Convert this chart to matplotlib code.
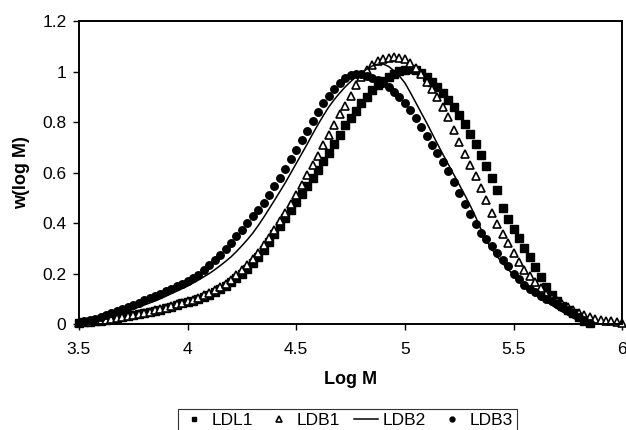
import numpy as np
import matplotlib.pyplot as plt
from matplotlib.ticker import FuncFormatter

plt.rcParams['font.family'] = ['Liberation Sans', 'DejaVu Sans']

# log M grid, step 0.025
log_m = np.round(np.arange(3.5, 6.0001, 0.025), 3)

ldl1 = [0.004, 0.006, 0.008, 0.010, 0.013, 0.016, 0.020, 0.024, 0.027, 0.031,
        0.034, 0.038, 0.043, 0.047, 0.052, 0.057, 0.062, 0.068, 0.075, 0.082,
        0.088, 0.093, 0.099, 0.107, 0.116, 0.127, 0.139, 0.152, 0.167, 0.183,
        0.200, 0.219, 0.240, 0.264, 0.293, 0.324, 0.355, 0.388, 0.420, 0.452,
        0.483, 0.515, 0.547, 0.580, 0.612, 0.645, 0.678, 0.712, 0.750, 0.790,
        0.815, 0.845, 0.875, 0.900, 0.925, 0.945, 0.962, 0.978, 0.992, 1.002,
        1.008, 1.010, 1.005, 0.995, 0.978, 0.960, 0.938, 0.915, 0.888, 0.860,
        0.828, 0.792, 0.752, 0.712, 0.670, 0.625, 0.578, 0.530, 0.460, 0.415,
        0.375, 0.340, 0.300, 0.265, 0.225, 0.185, 0.145, 0.115, 0.090, 0.070,
        0.055, 0.042, 0.028, 0.012, 0.004]

ldb1 = [0.004, 0.006, 0.008, 0.010, 0.013, 0.016, 0.020, 0.024, 0.028, 0.032,
        0.036, 0.040, 0.045, 0.049, 0.054, 0.059, 0.065, 0.071, 0.078, 0.085,
        0.091, 0.097, 0.104, 0.113, 0.123, 0.134, 0.146, 0.160, 0.176, 0.193,
        0.212, 0.233, 0.256, 0.282, 0.311, 0.342, 0.374, 0.407, 0.440, 0.475,
        0.510, 0.550, 0.590, 0.630, 0.665, 0.710, 0.750, 0.790, 0.830, 0.865,
        0.905, 0.945, 0.980, 1.005, 1.025, 1.040, 1.050, 1.055, 1.057, 1.055,
        1.048, 1.035, 1.015, 0.990, 0.960, 0.930, 0.900, 0.860, 0.820, 0.770,
        0.720, 0.675, 0.630, 0.585, 0.540, 0.490, 0.440, 0.395, 0.355, 0.320,
        0.280, 0.245, 0.213, 0.190, 0.165, 0.143, 0.120, 0.102, 0.090, 0.078,
        0.066, 0.055, 0.045, 0.035, 0.027, 0.020, 0.016, 0.013, 0.010, 0.007,
        0.005]

ldb2 = [0.005, 0.008, 0.012, 0.016, 0.021, 0.026, 0.032, 0.038, 0.045, 0.052,
        0.059, 0.067, 0.075, 0.083, 0.091, 0.100, 0.110, 0.120, 0.130, 0.140,
        0.150, 0.162, 0.174, 0.187, 0.200, 0.215, 0.231, 0.248, 0.266, 0.287,
        0.310, 0.334, 0.360, 0.390, 0.422, 0.456, 0.490, 0.525, 0.560, 0.598,
        0.636, 0.674, 0.712, 0.752, 0.790, 0.826, 0.860, 0.889, 0.915, 0.939,
        0.960, 0.979, 0.995, 1.010, 1.022, 1.029, 1.030, 1.020, 1.003, 0.982,
        0.955, 0.917, 0.877, 0.837, 0.797, 0.755, 0.713, 0.672, 0.632, 0.592,
        0.552, 0.512, 0.470, 0.425, 0.375, 0.330, 0.296, 0.267, 0.240, 0.216,
        0.194, 0.174, 0.155, 0.137, 0.120, 0.104, 0.089, 0.075, 0.061, 0.048,
        0.035, 0.023, 0.012, 0.004]

ldb3 = [0.005, 0.010, 0.015, 0.021, 0.028, 0.036, 0.044, 0.052, 0.060, 0.068,
        0.076, 0.085, 0.094, 0.102, 0.111, 0.120, 0.130, 0.140, 0.150, 0.160,
        0.171, 0.182, 0.196, 0.214, 0.234, 0.254, 0.275, 0.297, 0.320, 0.347,
        0.374, 0.400, 0.426, 0.452, 0.480, 0.512, 0.545, 0.580, 0.615, 0.652,
        0.690, 0.728, 0.766, 0.803, 0.840, 0.874, 0.905, 0.932, 0.955, 0.973,
        0.985, 0.990, 0.990, 0.984, 0.976, 0.966, 0.955, 0.939, 0.920, 0.898,
        0.875, 0.846, 0.815, 0.781, 0.746, 0.711, 0.676, 0.641, 0.605, 0.562,
        0.520, 0.477, 0.436, 0.397, 0.362, 0.335, 0.310, 0.283, 0.255, 0.228,
        0.200, 0.177, 0.156, 0.139, 0.125, 0.112, 0.100, 0.090, 0.079, 0.067,
        0.055, 0.042, 0.028, 0.015, 0.004]

x_ticks = [3.5, 4, 4.5, 5, 5.5, 6]
y_ticks = [0, 0.2, 0.4, 0.6, 0.8, 1, 1.2]

fig = plt.figure(figsize=(6.26, 4.30), dpi=100)
ax = fig.add_axes([0.126, 0.2465, 0.868, 0.7045])

ax.plot(log_m[:len(ldl1)], ldl1, ls='none', marker='s', ms=5.4, mfc='black',
        mec='black', label='LDL1', clip_on=False)
ax.plot(log_m[:len(ldb1)], ldb1, ls='none', marker='^', ms=5.6, mfc='white',
        mec='black', mew=1.2, label='LDB1', clip_on=False)
ax.plot(log_m[:len(ldb2)], ldb2, color='black', lw=1.1, label='LDB2')
ax.plot(log_m[:len(ldb3)], ldb3, ls='none', marker='o', ms=5.4, mfc='black',
        mec='black', label='LDB3', clip_on=False)

ax.set_xlim(3.5, 6)
ax.set_ylim(0, 1.2)
ax.set_xticks(x_ticks)
ax.set_yticks(y_ticks)
fmt = FuncFormatter(lambda v, p: ('%g' % v))
ax.xaxis.set_major_formatter(fmt)
ax.yaxis.set_major_formatter(fmt)
ax.tick_params(axis='both', labelsize=12.5, direction='out', length=4,
               width=1.0, color='black')
ax.tick_params(axis='x', pad=9)
ax.tick_params(axis='y', pad=5)
for s in ax.spines.values():
    s.set_linewidth(1.4)
    s.set_color('black')

ax.set_xlabel('Log M', fontsize=13, fontweight='bold', labelpad=10)
ax.set_ylabel('w(log M)', fontsize=13, fontweight='bold', labelpad=9)

leg = fig.legend(loc='upper center', bbox_to_anchor=(0.555, 0.05), ncol=4,
                 fontsize=12.5, frameon=True, fancybox=False, edgecolor='black',
                 markerscale=0.65, handlelength=1.4, handletextpad=0.3,
                 columnspacing=0.8, borderpad=0.25, borderaxespad=0)
leg.get_frame().set_linewidth(0.8)

fig.savefig('out.png', dpi=100)
